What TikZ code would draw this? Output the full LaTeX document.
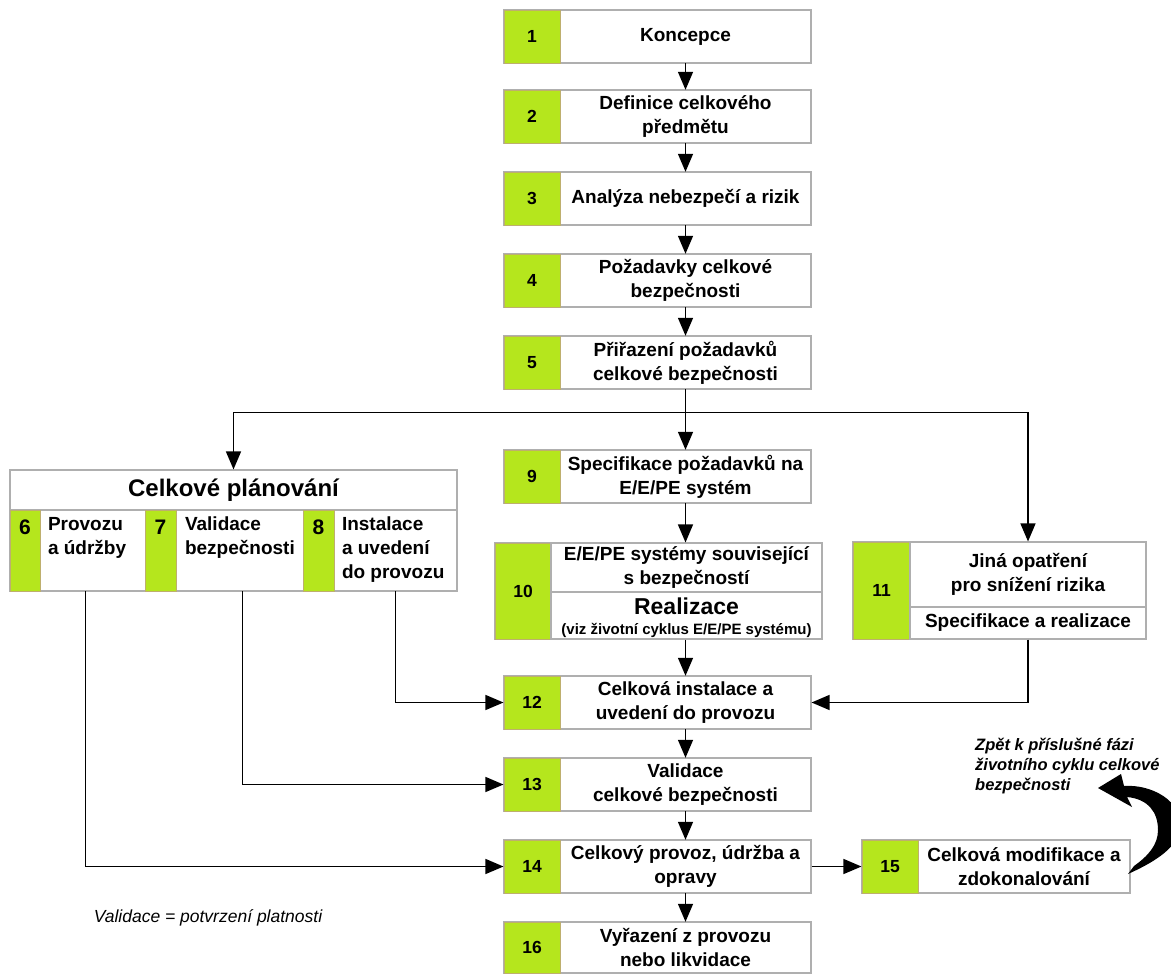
\documentclass[tikz,border=0pt]{standalone}
\usepackage{fontspec}
\setmainfont{Liberation Sans}
\usetikzlibrary{arrows.meta,fit,calc}
\definecolor{lime}{RGB}{181,230,29}
\definecolor{tanb}{RGB}{190,175,110}
\definecolor{frame}{RGB}{175,175,175}
\newcommand{\boxfont}{\fontsize{19}{24}\selectfont\bfseries}
\newcommand{\numfont}{\fontsize{17.5}{20}\selectfont\bfseries}
\newcommand{\phasebox}[8]{%
  \node[frm, fit={(#2,#3)(#4,#5)}] (#1) {};
  \node[grn, fit={(#2,#3)(#6,#5)}] (#1g) {};
  \node[numtxt] (#1n) at (#1g.center) {#7};
  \node[area, fit={(#6,#3)(#4,#5)}] (#1t) {};
  \node[txt] (#1x) at (#1t.center) {#8};
}
\begin{document}
\begin{tikzpicture}[x=1pt,y=-1pt,
  frm/.style={draw=frame, line width=1.1pt, fill=white, inner sep=0pt},
  grn/.style={draw=tanb, line width=0.8pt, fill=lime, inner sep=0pt},
  numtxt/.style={inner sep=0pt, font=\numfont},
  area/.style={inner sep=0pt},
  txt/.style={inner sep=0pt, align=center, font=\boxfont},
  pnum/.style={inner sep=0pt, font=\fontsize{21}{24}\selectfont\bfseries},
  ptxt/.style={inner sep=0pt, align=left, font=\boxfont},
  arr/.style={draw=black, line width=1.4pt, -{Triangle[length=18pt,width=15pt]}}]
\useasboundingbox (0,0) rectangle (1171,974);

% main column
\phasebox{b1}{504}{10}{811}{63}{560}{1}{Koncepce}
\phasebox{b2}{504}{90}{811}{143}{560}{2}{Definice celkového\\předmětu}
\phasebox{b3}{504}{172}{811}{225}{560}{3}{Analýza nebezpečí a rizik}
\phasebox{b4}{504}{254}{811}{307}{560}{4}{Požadavky celkové\\bezpečnosti}
\phasebox{b5}{504}{336}{811}{389}{560}{5}{Přiřazení požadavků\\celkové bezpečnosti}
\phasebox{b9}{504}{450}{811}{503}{560}{9}{Specifikace požadavků na\\E/E/PE systém}
\phasebox{b12}{504}{676}{811}{729}{560}{12}{Celková instalace a\\uvedení do provozu}
\phasebox{b13}{504}{758}{811}{811}{560}{13}{Validace\\celkové bezpečnosti}
\phasebox{b14}{504}{840}{811}{893}{560}{14}{Celkový provoz, údržba a\\opravy}
\phasebox{b15}{862}{840}{1130}{893}{918}{15}{Celková modifikace a\\zdokonalování}
\phasebox{b16}{504}{922}{811}{973}{560}{16}{Vyřazení z provozu\\nebo likvidace}

% box 10
\node[frm, fit={(495,543)(822,639)}] (b10) {};
\node[grn, fit={(495,543)(551,639)}] (b10g) {};
\node[numtxt] (b10n) at (b10g.center) {10};
\node[frm, fit={(551,543)(822,592)}] (b10u) {};
\node[txt] (b10ux) at (b10u.center) {E/E/PE systémy související\\s bezpečností};
\node[frm, fit={(551,592)(822,639)}] (b10l) {};
\node[txt, font=\fontsize{23}{22}\selectfont\bfseries] (b10lx) at ([yshift=-2pt]b10l.center)
  {Realizace\\[-2pt]{\fontsize{15}{18}\selectfont (viz životní cyklus E/E/PE systému)}};

% box 11
\node[frm, fit={(853,542)(1146,639)}] (b11) {};
\node[grn, fit={(853,542)(910,639)}] (b11g) {};
\node[numtxt] (b11n) at (b11g.center) {11};
\node[frm, fit={(910,542)(1146,607)}] (b11u) {};
\node[txt] (b11ux) at (b11u.center) {Jiná opatření\\pro snížení rizika};
\node[frm, fit={(910,607)(1146,639)}] (b11l) {};
\node[txt] (b11lx) at (b11l.center) {Specifikace a realizace};

% planning
\node[frm, fit={(10,470)(457,591)}] (plan) {};
\node[frm, fit={(10,470)(457,510)}] (planh) {};
\node[txt, font=\fontsize{24}{26}\selectfont\bfseries] (planx) at (planh.center) {Celkové plánování};
\node[grn, fit={(10,510)(40,591)}] (p6g) {};
\node[grn, fit={(145,510)(176,591)}] (p7g) {};
\node[grn, fit={(303,510)(334,591)}] (p8g) {};
\node[area, fit={(40,510)(145,591)}] (p6t) {};
\node[area, fit={(176,510)(303,591)}] (p7t) {};
\node[area, fit={(334,510)(457,591)}] (p8t) {};
\node[pnum] (p6n) at ($(p6g.north)+(0,18)$) {6};
\node[pnum] (p7n) at ($(p7g.north)+(0,18)$) {7};
\node[pnum] (p8n) at ($(p8g.north)+(0,18)$) {8};
\node[ptxt, anchor=north west] (p6x) at ($(p6t.north west)+(8,7)$) {Provozu\\a údržby};
\node[ptxt, anchor=north west] (p7x) at ($(p7t.north west)+(9,7)$) {Validace\\bezpečnosti};
\node[ptxt, anchor=north west] (p8x) at ($(p8t.north west)+(8,7)$) {Instalace\\a uvedení\\do provozu};

% connectors
\draw[arr] (b1t.south) -- (b2t.north);
\draw[arr] (b2t.south) -- (b3t.north);
\draw[arr] (b3t.south) -- (b4t.north);
\draw[arr] (b4t.south) -- (b5t.north);
\draw[arr] (b5t.south) -- (b9t.north);
\coordinate (split) at ($(b5t.south)+(0,23)$);
\draw[arr] (split) -| (plan.north);
\draw[arr] (split) -| (b11u.north);
\draw[arr] (b9t.south) -- (b9t.south |- b10u.north);
\draw[arr] (b12t.north |- b10l.south) -- (b12t.north);
\draw[arr] (b11l.south) |- (b12.east);
\draw[arr] (p8t.south) |- (b12.west);
\draw[arr] ([xshift=3pt]p7t.south) |- (b13.west);
\draw[arr] ([xshift=-7pt]p6t.south) |- (b14.west);
\draw[arr] (b12t.south) -- (b13t.north);
\draw[arr] (b13t.south) -- (b14t.north);
\draw[arr] (b14t.south) -- (b16t.north);
\draw[arr] (b14.east) -- (b15.west);

% curved return arrow
\fill[black] (1124,786) .. controls (1150,784) and (1184,800) .. (1180,830)
  .. controls (1176,850) and (1150,864) .. (1128,874) -- (1134,866)
  .. controls (1148,856) and (1158,845) .. (1158,830)
  .. controls (1158,812) and (1148,799) .. (1127,797)
  -- (1132,807) -- (1098,788) -- (1121,774) -- cycle;

\node[anchor=north west, align=left, inner sep=0pt, font=\fontsize{16.5}{20}\selectfont\bfseries\itshape] (note) at (975,738)
  {Zpět k příslušné fázi\\životního cyklu celkové\\bezpečnosti};
\node[inner sep=0pt, font=\fontsize{17.5}{20}\selectfont\itshape] (vnote) at (208,918) {Validace = potvrzení platnosti};
\end{tikzpicture}
\end{document}
